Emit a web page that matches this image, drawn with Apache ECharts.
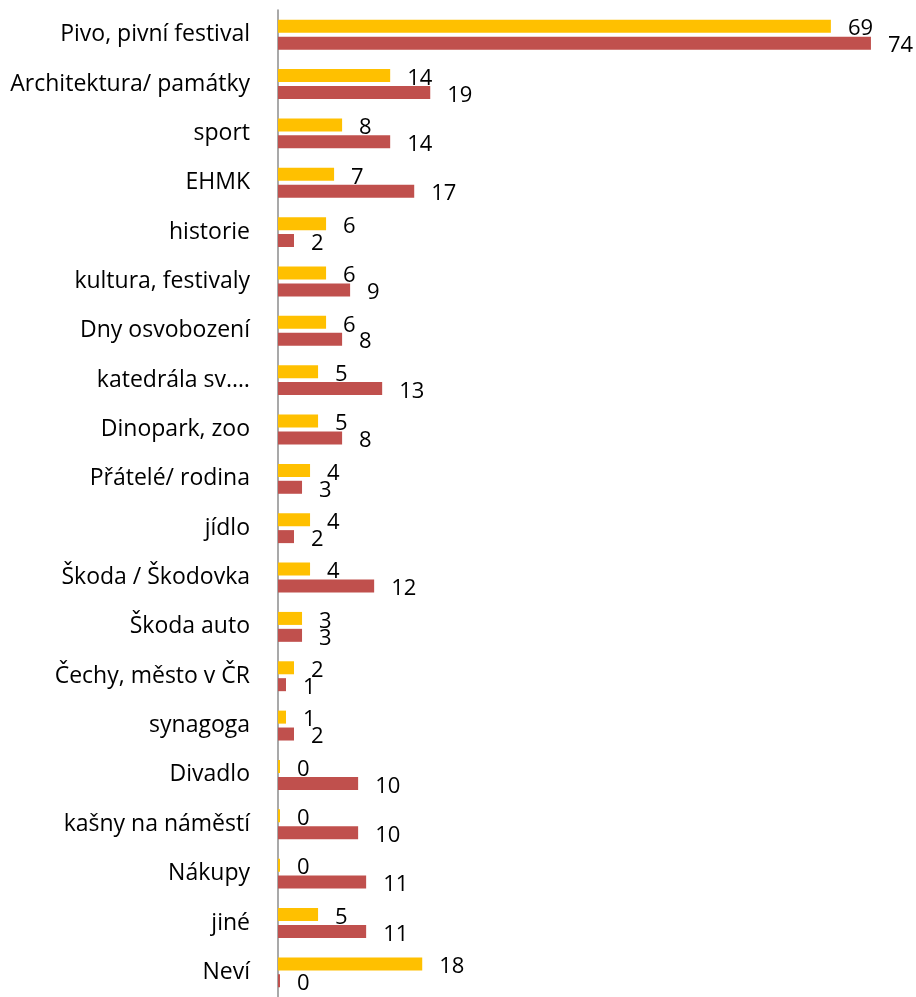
<!DOCTYPE html>
<html>
<head>
<meta charset="utf-8">
<script src="https://cdn.jsdelivr.net/npm/echarts@6/dist/echarts.min.js"></script>
<style>
html,body{margin:0;padding:0;background:#fff;}
#chart{width:916px;height:997px;}
</style>
</head>
<body>
<div id="chart"></div>
<script>
var categories = ["Pivo, pivní festival","Architektura/ památky","sport","EHMK","historie","kultura, festivaly","Dny osvobození","katedrála sv.…","Dinopark, zoo","Přátelé/ rodina","jídlo","Škoda / Škodovka","Škoda auto","Čechy, město v ČR","synagoga","Divadlo","kašny na náměstí","Nákupy","jiné","Neví"];
var seriesYellow = [69,14,8,7,6,6,6,5,5,4,4,4,3,2,1,0,0,0,5,18];
var seriesRed = [74,19,14,17,2,9,8,13,8,3,2,12,3,1,2,10,10,11,11,0];

var chart = echarts.init(document.getElementById('chart'));
var labelStyle = {
  show: true,
  position: 'right',
  distance: 17,
  offset: [0, 3],
  color: '#000',
  fontSize: 22,
  fontFamily: 'Open Sans'
};
chart.setOption({
  animation: false,
  grid: {left: 278, right: 13, top: 10, bottom: 0, containLabel: false},
  xAxis: {
    type: 'value', min: 0, max: 78, show: false
  },
  yAxis: {
    type: 'category',
    data: categories,
    inverse: true,
    axisLine: {show: true, lineStyle: {color: '#8c8c8c', width: 1.5}},
    axisTick: {show: false},
    axisLabel: {color: '#000', fontSize: 23, fontFamily: 'Open Sans', margin: 28}
  },
  series: [
    {type: 'bar', data: seriesYellow, barWidth: 13, barGap: '30%', barMinHeight: 2,
     itemStyle: {color: '#FFC000'}, label: labelStyle},
    {type: 'bar', data: seriesRed, barWidth: 13, barGap: '30%', barMinHeight: 2,
     itemStyle: {color: '#C0504D'}, label: labelStyle}
  ]
});
</script>
</body>
</html>
